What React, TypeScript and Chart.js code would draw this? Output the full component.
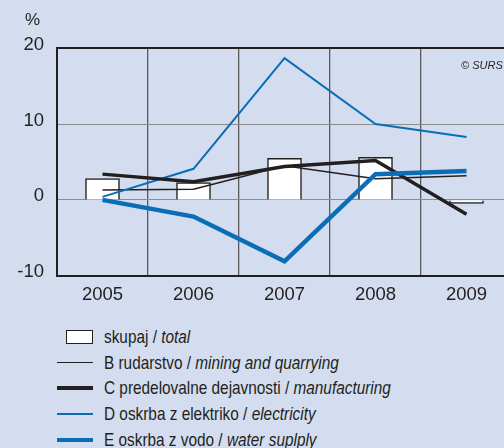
import React, { useEffect, useRef } from "react";
import { Chart, registerables } from "chart.js";

Chart.register(...registerables);

const years = ["2005", "2006", "2007", "2008", "2009"];
const total = [2.8, 2.3, 5.5, 5.6, -0.45];
const mining = [1.3, 1.4, 4.5, 2.8, 3.2];
const manufacturing = [3.4, 2.4, 4.4, 5.2, -1.9];
const electricity = [0.4, 4.1, 18.7, 10.0, 8.3];
const water = [0.0, -2.2, -8.1, 3.4, 3.8];
const yTicks = [-10, 0, 10, 20];

const BG = "#d3ddef";
const DARK = "#231f20";
const BLUE = "#0a6db5";
const FONT = '"Liberation Sans", Arial, sans-serif';

const legendItems = [
  { kind: "box", a: "skupaj / ", b: "total" },
  { kind: "line", a: "B rudarstvo / ", b: "mining and quarrying", color: DARK, w: 1.5 },
  { kind: "line", a: "C predelovalne dejavnosti / ", b: "manufacturing", color: DARK, w: 3.5 },
  { kind: "line", a: "D oskrba z elektriko / ", b: "electricity", color: BLUE, w: 2 },
  { kind: "line", a: "E oskrba z vodo / ", b: "water suplply", color: BLUE, w: 4.5 },
];

export default function App() {
  const ref = useRef<HTMLCanvasElement | null>(null);

  useEffect(() => {
    if (!ref.current) return;
    const chart = new Chart(ref.current, {
      type: "bar",
      data: {
        labels: years,
        datasets: [
          {
            type: "line",
            label: "E",
            data: water,
            borderColor: BLUE,
            borderWidth: 4.5,
            pointRadius: 0,
            tension: 0,
            order: 1,
          },
          {
            type: "line",
            label: "C",
            data: manufacturing,
            borderColor: DARK,
            borderWidth: 3.5,
            pointRadius: 0,
            tension: 0,
            order: 2,
          },
          {
            type: "line",
            label: "D",
            data: electricity,
            borderColor: BLUE,
            borderWidth: 2,
            pointRadius: 0,
            tension: 0,
            order: 3,
          },
          {
            type: "line",
            label: "B",
            data: mining,
            borderColor: DARK,
            borderWidth: 1.5,
            pointRadius: 0,
            tension: 0,
            order: 4,
          },
          {
            type: "bar",
            label: "total",
            data: total,
            backgroundColor: "#ffffff",
            borderColor: DARK,
            borderWidth: 1.5,
            barThickness: 34,
            order: 10,
          } as any,
        ],
      },
      options: {
        responsive: false,
        animation: false,
        events: [],
        layout: { padding: { top: 48.3, right: 8, left: 0, bottom: 0 } },
        plugins: {
          legend: { display: false },
          tooltip: { enabled: false },
        },
        scales: {
          x: {
            offset: true,
            grid: {
              offset: true,
              color: "#5a5a5a",
              lineWidth: 1.3,
              drawTicks: false,
            },
            border: { display: false },
            ticks: {
              color: DARK,
              font: { family: FONT, size: 18.5 },
              padding: 8,
              maxRotation: 0,
            },
            afterFit: (s: any) => {
              s.height = 310 - 275.7;
            },
          },
          y: {
            min: -10,
            max: 20,
            afterBuildTicks: (s: any) => {
              s.ticks = yTicks.map((v) => ({ value: v }));
            },
            grid: {
              drawTicks: false,
              color: (c: any) =>
                c.tick && (c.tick.value === 20 || c.tick.value === -10) ? DARK : "#8c8c8c",
              lineWidth: (c: any) =>
                c.tick && (c.tick.value === 20 || c.tick.value === -10) ? 2 : 1,
            },
            border: { display: true, color: DARK, width: 2 },
            ticks: {
              color: DARK,
              font: { family: FONT, size: 18.5 },
              padding: 13,
              labelOffset: -3.5,
            },
            afterFit: (s: any) => {
              s.width = 57;
            },
          },
        },
      },
    });
    return () => chart.destroy();
  }, []);

  const rowCenters = [336.7, 362.5, 388, 413.5, 440];

  return (
    <div
      style={{
        position: "absolute",
        left: 0,
        top: 0,
        width: 504,
        height: 448,
        overflow: "hidden",
        background: BG,
      }}
    >
      <canvas ref={ref} width={520} height={310} style={{ position: "absolute", left: 0, top: 0, width: 520, height: 310 }} />
      <div
        style={{
          position: "absolute",
          left: 25,
          top: 10,
          fontFamily: FONT,
          fontSize: 17,
          color: DARK,
          lineHeight: "20px",
        }}
      >
        %
      </div>
      <div
        style={{
          position: "absolute",
          left: 461,
          top: 58,
          fontFamily: FONT,
          fontSize: 11,
          fontStyle: "italic",
          color: DARK,
          lineHeight: "14px",
          whiteSpace: "nowrap",
        }}
      >
        © SURS
      </div>
      {legendItems.map((it, i) => (
        <div
          key={i}
          style={{
            position: "absolute",
            left: 0,
            top: rowCenters[i] - 12,
            height: 24,
            width: 504,
          }}
        >
          {it.kind === "box" ? (
            <div
              style={{
                position: "absolute",
                left: 66,
                top: 5,
                width: 27,
                height: 14,
                boxSizing: "border-box",
                background: "#fff",
                border: `1.5px solid ${DARK}`,
              }}
            />
          ) : (
            <div
              style={{
                position: "absolute",
                left: 57,
                top: 12 - (it.w as number) / 2,
                width: 36,
                height: it.w,
                background: it.color,
              }}
            />
          )}
          <div
            style={{
              position: "absolute",
              left: 104,
              top: 0,
              height: 24,
              lineHeight: "24px",
              fontFamily: FONT,
              fontSize: 18.5,
              color: DARK,
              whiteSpace: "nowrap",
              transform: "scaleX(0.83)",
              transformOrigin: "0 50%",
            }}
          >
            {it.a}
            <i>{it.b}</i>
          </div>
        </div>
      ))}
    </div>
  );
}
